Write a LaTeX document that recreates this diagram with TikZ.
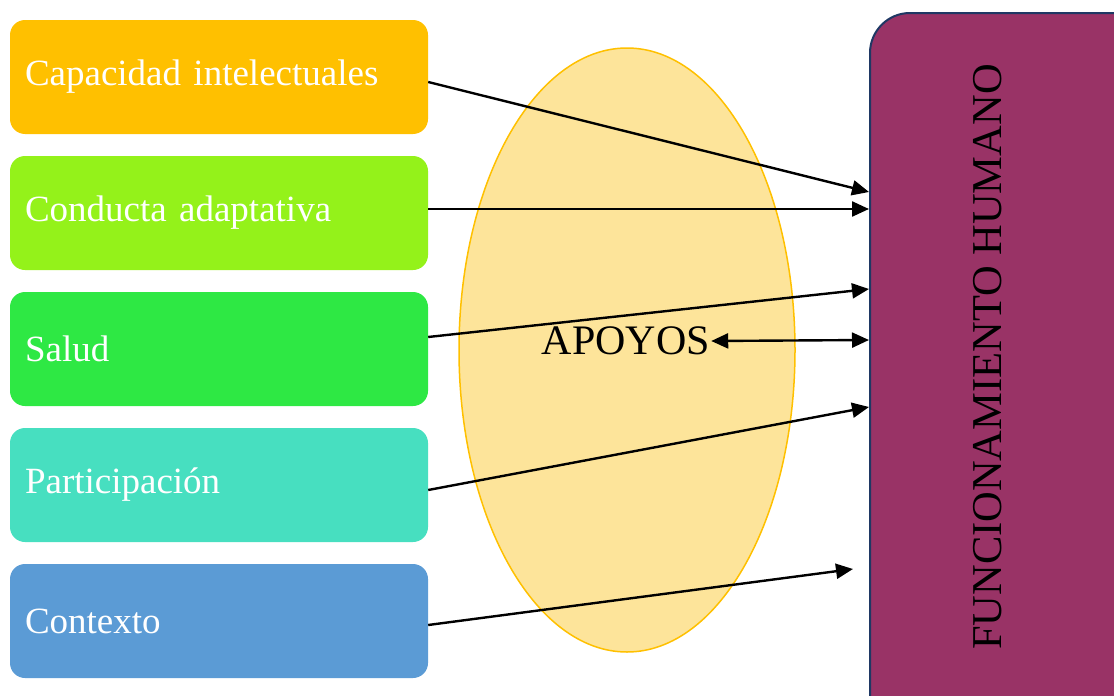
\documentclass[tikz,border=0pt]{standalone}
\usepackage{fontspec}
\setmainfont{Liberation Serif}
\usepackage{xcolor}
\usetikzlibrary{arrows.meta}
\usetikzlibrary{shapes.geometric}

\definecolor{capcol}{RGB}{255,192,0}
\definecolor{concol}{RGB}{148,242,26}
\definecolor{salcol}{RGB}{46,232,68}
\definecolor{parcol}{RGB}{71,223,192}
\definecolor{ctxcol}{RGB}{91,155,213}
\definecolor{apocol}{RGB}{253,228,154}
\definecolor{funcol}{RGB}{153,51,102}
\definecolor{edgecol}{RGB}{31,56,100}

\tikzset{
  factor/.style={rounded corners=15pt, minimum width=418pt, minimum height=114pt,
    text width=388pt, inner xsep=15pt, align=left, text=white,
    font=\fontsize{37}{44}\selectfont},
  link/.style={line width=2.4pt, -{Triangle[length=17pt,width=15pt]}},
}

\begin{document}
\begin{tikzpicture}[x=1pt,y=-1pt]
  \useasboundingbox (0,0) rectangle (1114,696);
  \node[ellipse, draw=capcol, line width=1.5pt, fill=apocol, minimum width=336pt, minimum height=604pt] (ap) at (627,350) {};
  \node[factor, fill=capcol] (cap) at (219,77) {Capacidad intelectuales};
  \node[factor, fill=concol] (con) at (219,213) {Conducta adaptativa};
  \node[factor, fill=salcol] (sal) at (219,349) {Salud};
  \node[factor, fill=parcol] (par) at (219,485) {Participación};
  \node[factor, fill=ctxcol] (ctx) at (219,621) {Contexto};
  \node[draw=edgecol, line width=2pt, fill=funcol, rounded corners=40pt, anchor=north west,
    minimum width=320pt, minimum height=760pt] (fh) at (869,12) {};
  \node[rotate=90, font=\fontsize{42.5}{48}\selectfont] (fht) at (988,357) {FUNCIONAMIENTO HUMANO};
  \node[font=\fontsize{42}{48}\selectfont, inner sep=1pt] (apo) at (626,341) {APOYOS};
  \coordinate (t1) at (869,192);
  \coordinate (t2) at (869,209);
  \coordinate (t3) at (869,289);
  \coordinate (t4) at (869,407);
  \coordinate (t5) at (853,569);
  \coordinate (t6) at (869,340);
  \draw[link] ([yshift=-5pt]cap.east) -- (t1);
  \draw[link] ([yshift=4pt]con.east) -- (t2);
  \draw[link] ([yshift=12pt]sal.east) -- (t3);
  \draw[link] ([yshift=-5pt]par.east) -- (t4);
  \draw[link] ([yshift=-4pt]ctx.east) -- (t5);
  \draw[link, {Triangle[length=17pt,width=15pt]}-{Triangle[length=17pt,width=15pt]}] (apo.east) -- (t6);
\end{tikzpicture}
\end{document}
